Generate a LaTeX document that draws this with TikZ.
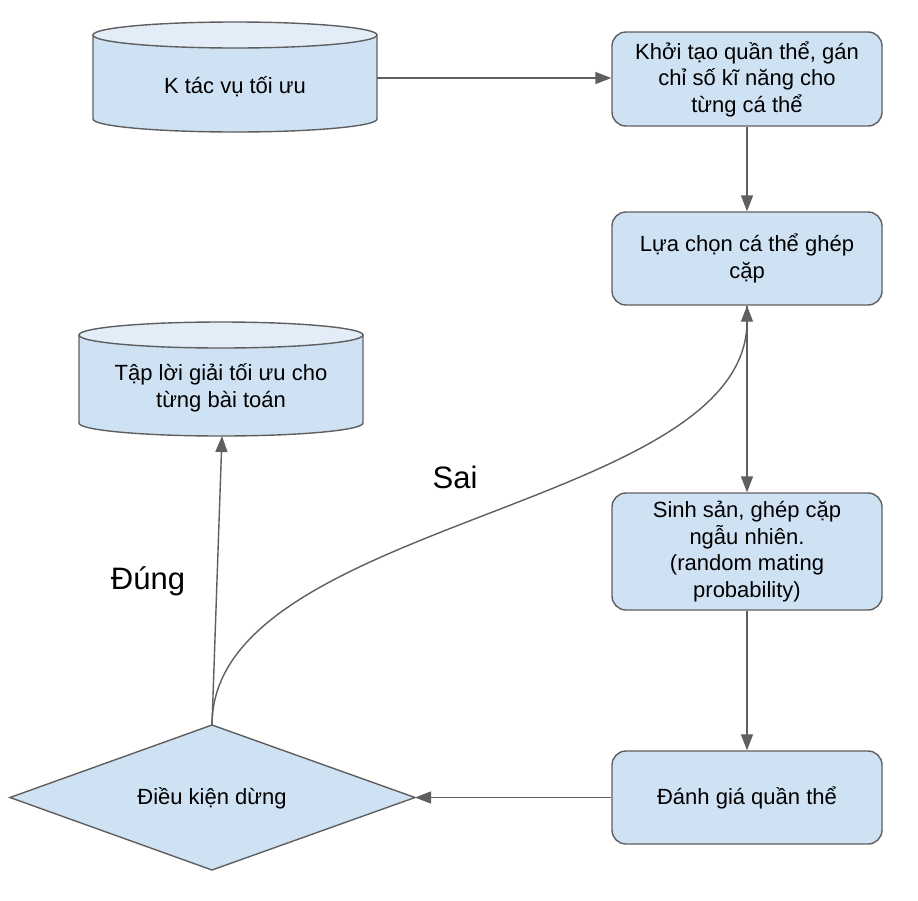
\documentclass[tikz,border=0pt]{standalone}
\usepackage{fontspec}
\setmainfont{Liberation Sans}
\usetikzlibrary{arrows.meta}
\definecolor{strokec}{HTML}{5F5F5F}
\definecolor{fillc}{HTML}{CFE2F3}
\definecolor{topc}{HTML}{E2EDF8}
\tikzset{
  boxnode/.style={draw=strokec, fill=fillc, line width=1.4pt, rounded corners=14pt,
    minimum width=270pt, inner sep=0pt, align=center,
    font=\fontsize{22}{26.5}\selectfont},
  txtnode/.style={inner sep=0pt, align=center, font=\fontsize{22}{26.5}\selectfont},
  bignote/.style={inner sep=0pt, font=\fontsize{31}{34}\selectfont},
  shapeline/.style={draw=strokec, line width=1.4pt},
  arr/.style={draw=strokec, line width=1.4pt, -{Triangle[length=16pt,width=12pt]}},
  plain/.style={draw=strokec, line width=1.4pt}
}
\begin{document}
\begin{tikzpicture}[x=1pt,y=-1pt]
\useasboundingbox (0,0) rectangle (918,900);
\fill[white] (0,0) rectangle (918,900);

% Cylinder 1
\fill[fillc] (93,35) -- (93,119) arc[start angle=180,end angle=360,x radius=142pt,y radius=13pt] -- (377,35) -- cycle;
\draw[shapeline] (93,35) -- (93,119) arc[start angle=180,end angle=360,x radius=142pt,y radius=13pt] -- (377,35);
\filldraw[shapeline, fill=topc] (235,35) ellipse[x radius=142pt,y radius=13pt];
\node[minimum width=284pt, minimum height=110pt, inner sep=0pt] (cyl1) at (235,78) {};
\node[txtnode] (cyl1text) at (235,87) {K tác vụ tối ưu};

% Cylinder 2
\fill[fillc] (79,335) -- (79,423) arc[start angle=180,end angle=360,x radius=142pt,y radius=13pt] -- (363,335) -- cycle;
\draw[shapeline] (79,335) -- (79,423) arc[start angle=180,end angle=360,x radius=142pt,y radius=13pt] -- (363,335);
\filldraw[shapeline, fill=topc] (221,335) ellipse[x radius=142pt,y radius=13pt];
\node[txtnode] (cyl2text) at (221,388) {Tập lời giải tối ưu cho\\từng bài toán};
\coordinate (cyl2bot) at (222,436);

% Boxes
\node[boxnode, minimum height=94pt] (b1) at (747,79) {Khởi tạo quần thể, gán\\chỉ số kĩ năng cho\\từng cá thể};
\node[boxnode, minimum height=93pt] (b2) at (747,258.5) {Lựa chọn cá thể ghép\\cặp};
\node[boxnode, minimum height=117pt] (b3) at (747,551.5) {Sinh sản, ghép cặp\\ngẫu nhiên.\\(random mating\\probability)};
\node[boxnode, minimum height=93pt] (b4) at (747,797.5) {Đánh giá quần thể};

% Diamond
\filldraw[shapeline, fill=fillc] (10,797.5) -- (212,725) -- (415,797.5) -- (212,870) -- cycle;
\node[txtnode] (cond) at (212,798) {Điều kiện dừng};
\coordinate (condtop) at (212,725);
\coordinate (condright) at (415,797.5);

% Connectors
\draw[arr] (cyl1.east) -- (cyl1.east -| b1.west);
\draw[arr] (b1.south) -- (b2.north);
\draw[arr] (b2.south) -- (b3.north);
\draw[arr] (b3.south) -- (b4.north);
\draw[arr] (b4.west) -- (condright);
\draw[arr] (condtop) -- (cyl2bot);
\draw[arr] (condtop) .. controls (212,520) and (747,510) .. (b2.south);

% Labels
\node[bignote] (sai) at (455,477) {Sai};
\node[bignote] (dung) at (148,581) {Đúng};
\end{tikzpicture}
\end{document}
